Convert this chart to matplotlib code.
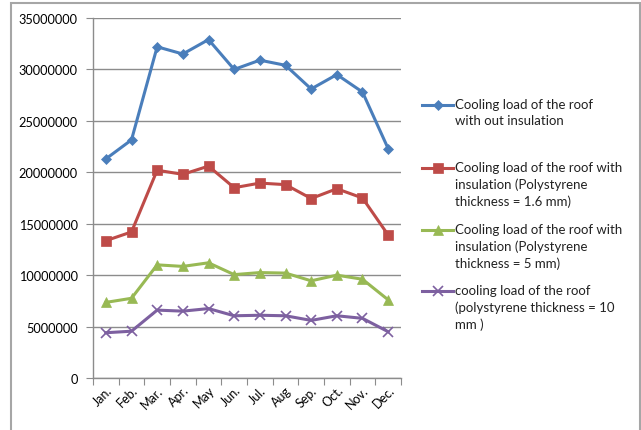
import matplotlib
matplotlib.use("Agg")
import matplotlib.pyplot as plt
from matplotlib.lines import Line2D
from matplotlib.patches import Rectangle
from matplotlib.ticker import FixedLocator, NullFormatter, FixedFormatter

plt.rcParams['font.family'] = ['Lato', 'DejaVu Sans']

months = ["Jan.", "Feb.", "Mar.", "Apr.", "May", "Jun.", "Jul.", "Aug", "Sep.", "Oct.", "Nov.", "Dec."]

no_insulation = [21300000, 23150000, 32200000, 31500000, 32900000, 30000000,
                 30900000, 30400000, 28100000, 29500000, 27800000, 22300000]
ps_1_6mm = [13350000, 14200000, 20200000, 19800000, 20600000, 18500000,
            18950000, 18800000, 17450000, 18400000, 17500000, 13900000]
ps_5mm = [7350000, 7750000, 11000000, 10850000, 11200000, 10050000,
          10250000, 10200000, 9450000, 10000000, 9600000, 7600000]
ps_10mm = [4400000, 4550000, 6600000, 6500000, 6750000, 6050000,
           6100000, 6050000, 5600000, 6050000, 5800000, 4500000]

labels = [
    "Cooling load of the roof\nwith out insulation",
    "Cooling load of the roof with\ninsulation (Polystyrene\nthickness = 1.6 mm)",
    "Cooling load of the roof with\ninsulation (Polystyrene\nthickness = 5 mm)",
    "cooling load of the roof\n(polystyrene thickness = 10\nmm )",
]
colors = ["#4A7EBB", "#BE4B48", "#98B954", "#7D60A0"]
markers = ["D", "s", "^", "x"]
msizes = [5, 7, 7, 7]
series = [no_insulation, ps_1_6mm, ps_5mm, ps_10mm]

fig = plt.figure(figsize=(6.41, 4.31), dpi=100)
W, H = 641, 431
ax = fig.add_axes([93 / W, 1 - 379 / H, (401 - 93) / W, (379 - 19) / H])

x = list(range(len(months)))
for vals, c, m, ms in zip(series, colors, markers, msizes):
    ax.plot(x, vals, color=c, lw=2.2, marker=m, ms=ms, mec=c, mfc=c,
            mew=1.2 if m == "x" else 0.5, zorder=3)

ax.set_xlim(-0.5, len(months) - 0.5)
ax.set_ylim(0, 35000000)
yt = list(range(0, 35000001, 5000000))
ax.set_yticks(yt)
ax.set_yticklabels([str(v) for v in yt], fontsize=9.2)
ax.yaxis.grid(True, color="#8C8C8C", lw=1.0)
ax.set_axisbelow(True)

ax.xaxis.set_major_locator(FixedLocator([i - 0.5 for i in range(len(months) + 1)]))
ax.xaxis.set_major_formatter(NullFormatter())
ax.xaxis.set_minor_locator(FixedLocator(x))
ax.xaxis.set_minor_formatter(FixedFormatter(months))
ax.tick_params(axis="x", which="minor", length=0, pad=4, labelsize=9)
ax.tick_params(axis="x", which="major", length=5, color="#8C8C8C", direction="out")
ax.tick_params(axis="y", length=5, color="#8C8C8C", direction="out", pad=6)
for lab in ax.xaxis.get_minorticklabels():
    lab.set_rotation(45)
    lab.set_ha("right")
    lab.set_va("top")
    lab.set_rotation_mode("anchor")

for s in ["top", "right"]:
    ax.spines[s].set_visible(False)
for s in ["left", "bottom"]:
    ax.spines[s].set_color("#8C8C8C")
    ax.spines[s].set_linewidth(1.0)

# Legend built by hand so each marker sits on the first line of its label
handle_ys = [106, 169, 231, 292]
for hy, lab, c, m, ms in zip(handle_ys, labels, colors, markers, msizes):
    yy = 1 - hy / H
    fig.add_artist(Line2D([422 / W, 453 / W], [yy, yy], color=c, lw=2.2,
                          transform=fig.transFigure))
    fig.add_artist(Line2D([437.5 / W], [yy], color=c, marker=m, ms=ms,
                          mec=c, mfc=c, mew=1.2 if m == "x" else 0.5,
                          transform=fig.transFigure))
    fig.text(455 / W, 1 - (hy - 7) / H, lab, fontsize=9.5, va="top", ha="left",
             linespacing=1.4, color="#222222")

# Outer chart frame
fig.add_artist(Rectangle((11 / W, -0.05), (640 - 11) / W, 1.05 - 4 / H,
                         transform=fig.transFigure, fill=False,
                         edgecolor="#A6A6A6", lw=1.5))

fig.savefig("out.png", dpi=100)
